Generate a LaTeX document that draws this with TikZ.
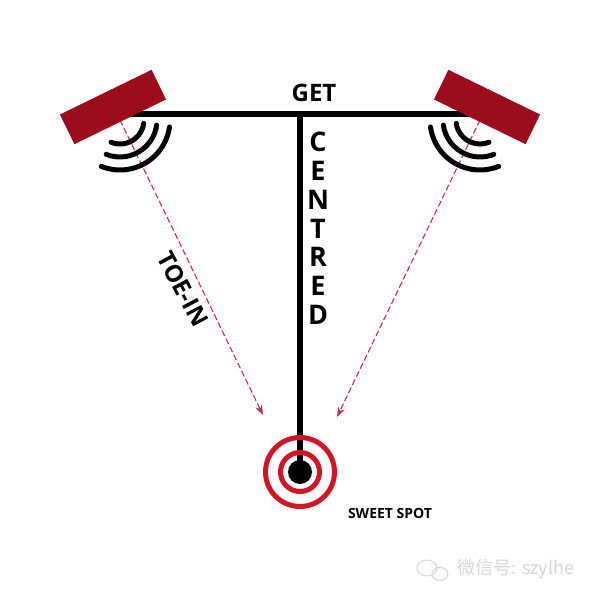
\documentclass[tikz,border=0pt]{standalone}
\usepackage{fontspec}
\setmainfont{Open Sans}
\newfontfamily\cjkfont{Noto Sans CJK SC}
\usetikzlibrary{arrows.meta}
\definecolor{spkred}{RGB}{155,12,28}
\definecolor{ringred}{RGB}{208,22,36}
\definecolor{toered}{RGB}{190,45,80}
\definecolor{wmgray}{RGB}{214,214,218}
\tikzset{
  speaker/.style={fill=spkred, minimum width=102pt, minimum height=33pt, inner sep=0pt},
  wave/.style={line width=5pt, line cap=round},
  toe/.style={toered, line width=1.1pt, dash pattern=on 6pt off 3pt, -{Stealth[length=10pt,width=7pt]}},
  ring/.style={ringred, line width=5pt},
  bar/.style={line width=5.5pt},
  big/.style={font=\bfseries\fontsize{27}{27}\selectfont},
}

\begin{document}
\begin{tikzpicture}[x=1pt,y=1pt]
                \useasboundingbox[fill=white] (0,0) rectangle (600,600);

                % points of the layout
                \coordinate (lbar) at (130,486);
                \coordinate (rbar) at (470,486);
                \coordinate (top) at (300,486);
                \coordinate (lsrc) at (120,480);
                \coordinate (rsrc) at (480,480);
                \coordinate (ltip) at (263,185);
                \coordinate (rtip) at (337,183);
                \node[circle, inner sep=0pt, minimum size=24pt] (spot) at (300,128) {};

                % the T
                \draw[bar] (lbar) -- (rbar);
                \draw[bar] (top) -- (spot.center);

                % toe-in lines
                \draw[toe] (lsrc) -- (ltip);
                \draw[toe] (rsrc) -- (rtip);

                % speakers
                \node[speaker, rotate=26] (lspk) at (113,493) {};
                \node[speaker, rotate=-26] (rspk) at (487,493) {};

                % sound waves
                \foreach \r in {24,37,50} {
                    \draw[wave] (lsrc) ++(-112:\r) arc (-112:-8:\r);
                    \draw[wave] (rsrc) ++(-172:\r) arc (-172:-68:\r);
                }

                % sweet spot
                \draw[ring] (spot.center) circle (19.5);
                \draw[ring] (spot.center) circle (34.5);
                \fill (spot.center) circle (12);

                % labels
                \node[font=\bfseries\fontsize{24}{24}\selectfont] (get) at (314,507) {GET};
                \foreach \ch [count=\i from 0] in {C,E,N,T,R,E,D}
                    \node[big] (cen\i) at (318,458-28.8*\i) {\ch};
                \node[font=\bfseries\fontsize{24}{24}\selectfont, rotate=-62] (toein) at (183,311) {TOE-IN};
                \node[font=\bfseries\fontsize{14}{14}\selectfont] (sweet) at (390,87) {SWEET SPOT};

                % watermark
                \draw[wmgray, line width=1pt] (427,32) ellipse (10 and 8);
                \draw[wmgray, line width=1pt] (440,26) ellipse (8 and 6.5);
                \node[font=\cjkfont\fontsize{18}{18}\selectfont, text=wmgray] (wm) at (516,31) {微信号: szylhe};
\end{tikzpicture}
\end{document}
